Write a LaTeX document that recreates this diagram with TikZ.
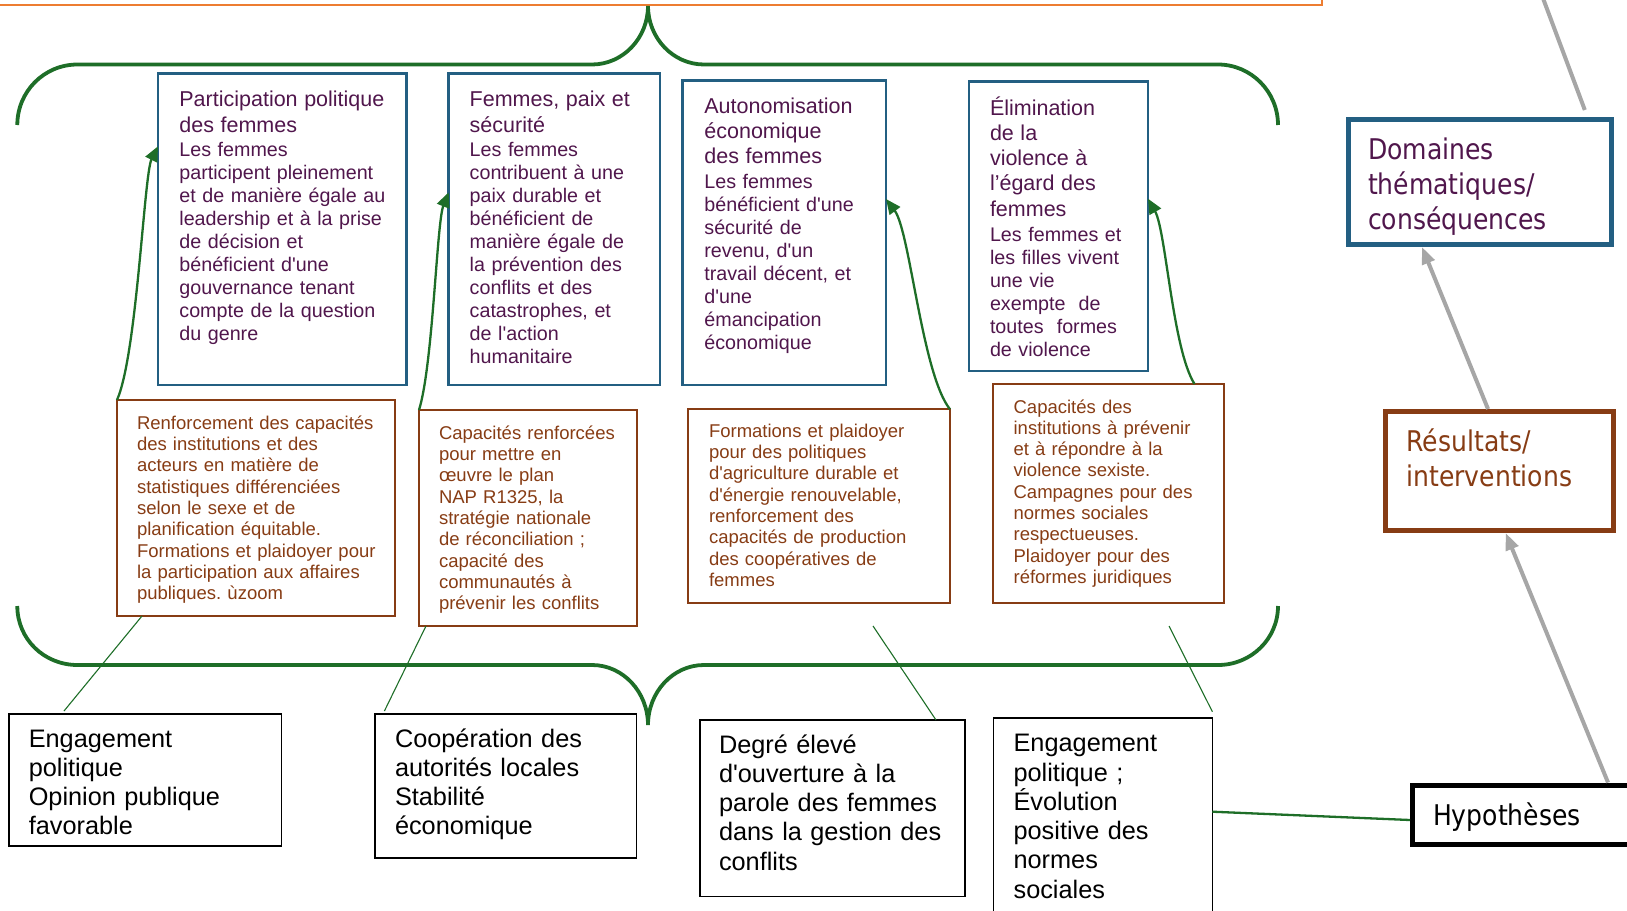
\documentclass[tikz,border=0pt]{standalone}
\usepackage{fontspec}
\newfontfamily\arialf{Liberation Sans}
\newfontfamily\labfont[FakeStretch=0.88]{DejaVu Sans}
\setmainfont{Liberation Sans}
\usetikzlibrary{arrows.meta,calc}
\setlength{\parindent}{0pt}
\frenchspacing
\definecolor{plum}{RGB}{80,22,76}
\definecolor{boxblue}{RGB}{35,95,130}
\definecolor{brownc}{RGB}{135,60,20}
\definecolor{greenc}{RGB}{30,110,40}
\definecolor{grayc}{RGB}{166,166,166}
\definecolor{orangec}{RGB}{237,125,49}
\newcommand\bttl[1]{{\fontsize{21.5}{25.3}\selectfont\rule{0pt}{22pt}#1\par}\vskip1.8pt}
\begin{document}
\begin{tikzpicture}[x=1pt,y=-1pt,
  box/.style={draw, rectangle, inner sep=0pt, outer sep=0pt, anchor=north west},
  bluebox/.style={box, draw=boxblue, line width=2.5pt},
  brownbox/.style={box, draw=brownc, line width=2pt},
  hypbox/.style={box, draw=black, line width=1.5pt},
  keybox/.style={box, line width=5pt},
  txt/.style={anchor=north west, inner sep=0pt, outer sep=0pt, text width=320pt, align=left},
  bt/.style={txt, text=plum, font=\arialf\fontsize{19.7}{23}\selectfont},
  it/.style={txt, text=brownc, font=\arialf\fontsize{18.5}{21.3}\selectfont},
  ht/.style={txt, text=black, font=\arialf\fontsize{25.3}{29.3}\selectfont},
  lt/.style={txt, font=\labfont\fontsize{28.5}{35.3}\selectfont},
  brace/.style={draw=greenc, line width=3.8pt},
  garrow/.style={draw=greenc, line width=2.3pt, -{Triangle[length=15pt,width=13pt]}},
  thin/.style={draw=greenc, line width=1.1pt},
  grayarrow/.style={draw=grayc, line width=4pt, -{Triangle[length=17pt,width=13pt]}},
]
\useasboundingbox (0,0) rectangle (1627,910);
\clip (0,0) rectangle (1627,910);

% orange frame corner
\draw[orangec, line width=2.5pt] (-5,5) -- (1322,5) -- (1322,-5);

% braces
\draw[brace] (17.3,125) .. controls (17.3,91.6) and (44,64.5) .. (77.5,64.5) -- (592,64.5)
  .. controls (623,64.5) and (648,38) .. (648,6) .. controls (648,38) and (673,64.5) .. (704,64.5)
  -- (1218,64.5) .. controls (1251,64.5) and (1278,91.6) .. (1278,125);
\draw[brace] (17.3,606) .. controls (17.3,639) and (44,665) .. (77.5,665) -- (592,665)
  .. controls (623,665) and (648,692) .. (648,725) .. controls (648,692) and (673,665) .. (704,665)
  -- (1218,665) .. controls (1251,665) and (1278,639) .. (1278,606);

% outcome boxes
\node[bluebox, minimum width=248.4, minimum height=311.7] (b1) at (158,73.3) {};
\node[bluebox, minimum width=211.3, minimum height=311.7] (b2) at (448.7,73.3) {};
\node[bluebox, minimum width=203.3, minimum height=304.3] (b3) at (682.7,80.7) {};
\node[bluebox, minimum width=179.2, minimum height=289.3] (b4) at (968.8,81.7) {};

\node[bt] (b1t) at (179.4,84.7) {\bttl{Participation politique\\des femmes}Les femmes\\participent pleinement\\et de manière égale au\\leadership et à la prise\\de décision et\\bénéficient d'une\\gouvernance tenant\\compte de la question\\du genre};
\node[bt] (b2t) at (469.7,84.7) {\bttl{Femmes, paix et\\sécurité}Les femmes\\contribuent à une\\paix durable et\\bénéficient de\\manière égale de\\la prévention des\\conflits et des\\catastrophes, et\\de l'action\\humanitaire};
\node[bt] (b3t) at (704.4,91.3) {\bttl{Autonomisation\\économique\\des femmes}Les femmes\\bénéficient d'une\\sécurité de\\revenu, d'un\\travail décent, et\\d'une\\émancipation\\économique};
\node[bt] (b4t) at (990,93) {\bttl{Élimination\\de la\\violence à\\l’égard des\\femmes}Les femmes et\\les filles vivent\\une vie\\exempte\ \ de\\toutes\ \ formes\\de violence};

% intervention boxes
\node[brownbox, minimum width=278, minimum height=216] (i1) at (117,400) {};
\node[brownbox, minimum width=217.5, minimum height=216] (i2) at (419,410) {};
\node[brownbox, minimum width=262.3, minimum height=193.4] (i3) at (687.7,409.3) {};
\node[brownbox, minimum width=230.5, minimum height=219] (i4) at (993,384) {};

\node[it] (i1t) at (137,410.7) {\rule{0pt}{18.6pt}Renforcement des capacités\\des institutions et des\\acteurs en matière de\\statistiques différenciées\\selon le sexe et de\\planification équitable.\\Formations et plaidoyer pour\\la participation aux affaires\\publiques. ùzoom};
\node[it] (i2t) at (439,420.7) {\rule{0pt}{18.6pt}Capacités renforcées\\pour mettre en\\œuvre le plan\\NAP R1325, la\\stratégie nationale\\de réconciliation ;\\capacité des\\communautés à\\prévenir les conflits};
\node[it] (i3t) at (709,418.7) {\rule{0pt}{18.6pt}Formations et plaidoyer\\pour des politiques\\d'agriculture durable et\\d'énergie renouvelable,\\renforcement des\\capacités de production\\des coopératives de\\femmes};
\node[it] (i4t) at (1013.6,394.4) {\rule{0pt}{18.6pt}Capacités des\\institutions à prévenir\\et à répondre à la\\violence sexiste.\\Campagnes pour des\\normes sociales\\respectueuses.\\Plaidoyer pour des\\réformes juridiques};

% hypothesis boxes
\node[hypbox, minimum width=272.4, minimum height=132] (h1) at (9,714) {};
\node[hypbox, minimum width=261.5, minimum height=144] (h2) at (375,714) {};
\node[hypbox, minimum width=265, minimum height=176.7] (h3) at (700,720) {};
\node[hypbox, minimum width=218.8, minimum height=232] (h4) at (993.6,718) {};

\node[ht] (h1t) at (28.8,721.7) {\rule{0pt}{25.3pt}Engagement\\politique\\Opinion publique\\favorable};
\node[ht] (h2t) at (395,721.7) {\rule{0pt}{25.3pt}Coopération des\\autorités locales\\Stabilité\\économique};
\node[ht] (h3t) at (719,727.7) {\rule{0pt}{25.3pt}Degré élevé\\d'ouverture à la\\parole des femmes\\dans la gestion des\\conflits};
\node[ht] (h4t) at (1013.6,726.4) {\rule{0pt}{25.3pt}Engagement\\politique ;\\Évolution\\positive des\\normes\\sociales};

% key boxes
\node[keybox, draw=boxblue, minimum width=263, minimum height=125] (dom) at (1348.5,119.5) {};
\node[keybox, draw=brownc, minimum width=228, minimum height=119] (res) at (1385.5,411.5) {};
\node[keybox, draw=black, minimum width=247.5, minimum height=59] (hyp) at (1412.5,785) {};

\node[lt, text=plum] (domt) at (1368,130.5) {\rule{0pt}{28.5pt}Domaines\\thématiques/\\conséquences};
\node[lt, text=brownc] (rest) at (1406.5,422.5) {\rule{0pt}{28.5pt}Résultats/\\interventions};
\node[lt, text=black] (hypt) at (1433,796.5) {\rule{0pt}{28.5pt}Hypothèses};

% gray connectors
\coordinate (domtop) at ($(dom.north west)+(236.3,-9.5)$);
\coordinate (offtop) at (1539.9,-10);
\draw[draw=grayc, line width=4pt] (domtop) -- (offtop);
\draw[grayarrow] ($(res.north west)+(102.5,-2.5)$) -- ($(dom.south west)+(73.5,2.5)$);
\draw[grayarrow] ($(hyp.north west)+(195.5,-2.5)$) -- ($(res.south west)+(120.2,2.5)$);

% green connectors
\draw[draw=greenc, line width=2.3pt] ($(h4.north east)+(0,93.7)$) -- ($(hyp.north west)+(-2.5,35)$);

\coordinate (a1e) at ($(b1.north west)+(0,73)$);
\coordinate (a2e) at ($(b2.north west)+(0,119)$);
\coordinate (a3e) at ($(b3.north east)+(0,118.3)$);
\coordinate (a4e) at ($(b4.north east)+(0,117)$);
\coordinate (a4s) at ($(i4.north east)+(-29,0)$);
\draw[garrow] (i1.north west) .. controls +(20,-45) and +(-14,28) .. (a1e);
\draw[garrow] (i2.north west) .. controls +(14,-45) and +(-12,30) .. (a2e);
\draw[garrow] (i3.north east) .. controls +(-28,-35) and +(24,32) .. (a3e);
\draw[garrow] (a4s) .. controls +(-22,-35) and +(18,32) .. (a4e);

\coordinate (l1a) at ($(i1.south west)+(25,0)$);
\coordinate (l1b) at ($(h1.north west)+(55,-3)$);
\coordinate (l2a) at ($(i2.south west)+(7,0)$);
\coordinate (l2b) at ($(h2.north west)+(9.4,-3)$);
\coordinate (l3a) at ($(i3.south west)+(185.3,23.3)$);
\coordinate (l3b) at ($(h3.north west)+(236,0)$);
\coordinate (l4a) at ($(i4.south west)+(176,23)$);
\coordinate (l4b) at ($(h4.north east)+(0,-6.3)$);
\draw[thin] (l1a) -- (l1b);
\draw[thin] (l2a) -- (l2b);
\draw[thin] (l3a) -- (l3b);
\draw[thin] (l4a) -- (l4b);
\end{tikzpicture}
\end{document}
